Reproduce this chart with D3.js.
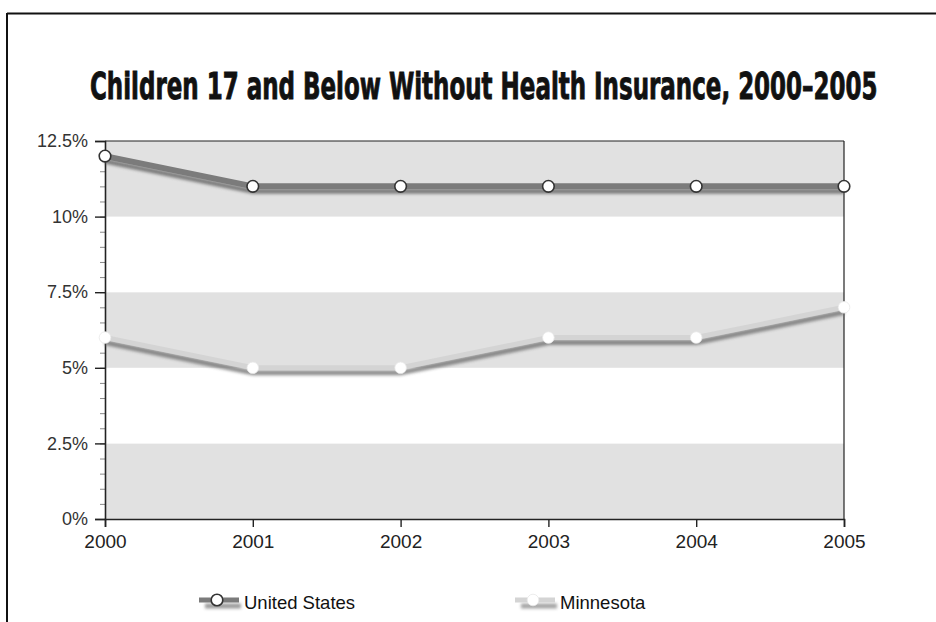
<!DOCTYPE html>
<html>
<head>
<meta charset="utf-8">
<script src="https://cdn.jsdelivr.net/npm/d3@7"></script>
<style>
  body { margin: 0; background: #fff; }
  svg { display: block; }
  text { font-family: "Liberation Sans", Arial, sans-serif; fill: #222; }
</style>
</head>
<body>
<svg id="chart" width="936" height="622"></svg>
<script>
const years = [2000, 2001, 2002, 2003, 2004, 2005];
const unitedStates = [12, 11, 11, 11, 11, 11];
const minnesota = [6, 5, 5, 6, 6, 7];
const seriesNames = ["United States", "Minnesota"];
const yTicks = [0, 2.5, 5, 7.5, 10, 12.5];
const yTickLabels = ["0%", "2.5%", "5%", "7.5%", "10%", "12.5%"];
const titleText = "Children 17 and Below Without Health Insurance, 2000\u20132005";

const svg = d3.select("#chart");
const W = 936, H = 622;
const margin = { left: 105, right: 92, top: 141, bottom: 103 };
const x = d3.scaleLinear().domain([2000, 2005]).range([margin.left, W - margin.right]);
const y = d3.scaleLinear().domain([0, 12.5]).range([H - margin.bottom, margin.top]);

// defs: blur filter for line shadows
const defs = svg.append("defs");
const f = defs.append("filter").attr("id", "blur")
  .attr("filterUnits", "userSpaceOnUse")
  .attr("x", 0).attr("y", 0).attr("width", W).attr("height", H);
f.append("feGaussianBlur").attr("stdDeviation", 1.6);

// outer frame (top and left lines)
svg.append("line").attr("x1", 7).attr("x2", W).attr("y1", 13.5).attr("y2", 13.5).attr("stroke", "#111").attr("stroke-width", 2);
svg.append("line").attr("x1", 7).attr("x2", 7).attr("y1", 13).attr("y2", H).attr("stroke", "#111").attr("stroke-width", 2);

// title: condensed horizontally via transform so it spans the reference width
const titleG = svg.append("g");
const title = titleG.append("text")
  .attr("x", 0).attr("y", 0)
  .style("font-family", "'DejaVu Sans Condensed', 'Liberation Sans Narrow', 'Liberation Sans', sans-serif")
  .style("font-weight", "bold").style("font-size", "38px").style("fill", "#111")
  .style("stroke", "#111").style("stroke-width", "0.9px")
  .text(titleText);
const natural = title.node().getComputedTextLength();
const sx = 788 / natural;
titleG.attr("transform", `translate(90,99) scale(${sx},1)`);

// alternating bands
const bands = [];
for (let i = 0; i < yTicks.length - 1; i++) bands.push([yTicks[i], yTicks[i + 1], i % 2 === 0]);
svg.append("g").selectAll("rect").data(bands).join("rect")
  .attr("x", x(2000)).attr("width", x(2005) - x(2000))
  .attr("y", d => y(d[1])).attr("height", d => y(d[0]) - y(d[1]))
  .attr("fill", d => d[2] ? "#e1e1e1" : "#ffffff");

// plot frame top/right
svg.append("line").attr("x1", x(2000)).attr("x2", x(2005)).attr("y1", y(12.5)).attr("y2", y(12.5)).attr("stroke", "#222").attr("stroke-width", 1.2);
svg.append("line").attr("x1", x(2005)).attr("x2", x(2005)).attr("y1", y(12.5)).attr("y2", y(0)).attr("stroke", "#222").attr("stroke-width", 1.2);

// y axis
const minorTicks = d3.range(0, 12.5001, 0.5);
const yAxisMinor = d3.axisLeft(y).tickValues(minorTicks).tickSize(5).tickFormat("");
const gMinor = svg.append("g").attr("transform", `translate(${x(2000)},0)`).call(yAxisMinor);
gMinor.select(".domain").remove();
gMinor.selectAll("line").attr("stroke", "#888");

const yAxis = d3.axisLeft(y).tickValues(yTicks).tickSize(10).tickPadding(7)
  .tickFormat((d, i) => yTickLabels[i]);
const gY = svg.append("g").attr("transform", `translate(${x(2000)},0)`).call(yAxis);
gY.select(".domain").attr("stroke", "#222").attr("stroke-width", 1.6);
gY.selectAll("line").attr("stroke", "#222").attr("stroke-width", 1.4);
gY.selectAll("text").style("font-size", "18px").style("fill", "#333").style("font-family", "'Liberation Sans', Arial, sans-serif");

// x axis
const xAxis = d3.axisBottom(x).tickValues(years).tickSize(8).tickPadding(8).tickFormat(d3.format("d"));
const gX = svg.append("g").attr("transform", `translate(0,${y(0)})`).call(xAxis);
gX.select(".domain").attr("stroke", "#222").attr("stroke-width", 1.6);
gX.selectAll("line").attr("stroke", "#222").attr("stroke-width", 1.4);
gX.selectAll("text").style("font-size", "19px").style("fill", "#222").style("font-family", "'Liberation Sans', Arial, sans-serif");

// series
const seriesData = [
  { name: seriesNames[0], values: unitedStates, line: "#7b7b7b", shadow: "#5a5a5a", width: 6, mStroke: "#333", mStrokeW: 1.6 },
  { name: seriesNames[1], values: minnesota, line: "#d4d4d4", shadow: "#6a6a6a", width: 5, mStroke: "#e8e8e8", mStrokeW: 0.8 }
];
const lineGen = d3.line().x((d, i) => x(years[i])).y(d => y(d));

seriesData.forEach(s => {
  const g = svg.append("g");
  g.append("path").attr("d", lineGen(s.values)).attr("fill", "none")
    .attr("stroke", s.shadow).attr("stroke-width", 5).attr("opacity", 0.75)
    .attr("filter", "url(#blur)").attr("transform", "translate(0,5)");
  g.append("path").attr("d", lineGen(s.values)).attr("fill", "none")
    .attr("stroke", s.line).attr("stroke-width", s.width);
  g.selectAll("circle").data(s.values).join("circle")
    .attr("cx", (d, i) => x(years[i])).attr("cy", d => y(d)).attr("r", 5.8)
    .attr("fill", "#fff").attr("stroke", s.mStroke).attr("stroke-width", s.mStrokeW);
});

// legend
const legendX = [199, 515];
const legendY = 600;
seriesData.forEach((s, i) => {
  const g = svg.append("g").attr("transform", `translate(${legendX[i]},${legendY})`);
  g.append("line").attr("x1", 6).attr("x2", 42).attr("y1", 6).attr("y2", 6)
    .attr("stroke", s.shadow).attr("stroke-width", 5).attr("opacity", 0.6).attr("filter", "url(#blur)");
  g.append("line").attr("x1", 0).attr("x2", 40).attr("y1", 0).attr("y2", 0)
    .attr("stroke", s.line).attr("stroke-width", 5);
  g.append("circle").attr("cx", 18).attr("cy", 0).attr("r", 5.8)
    .attr("fill", "#fff").attr("stroke", s.mStroke).attr("stroke-width", s.mStrokeW);
  g.append("text").attr("x", 45).attr("y", 9).style("font-size", "18.5px").style("fill", "#111").text(s.name);
});
</script>
</body>
</html>
